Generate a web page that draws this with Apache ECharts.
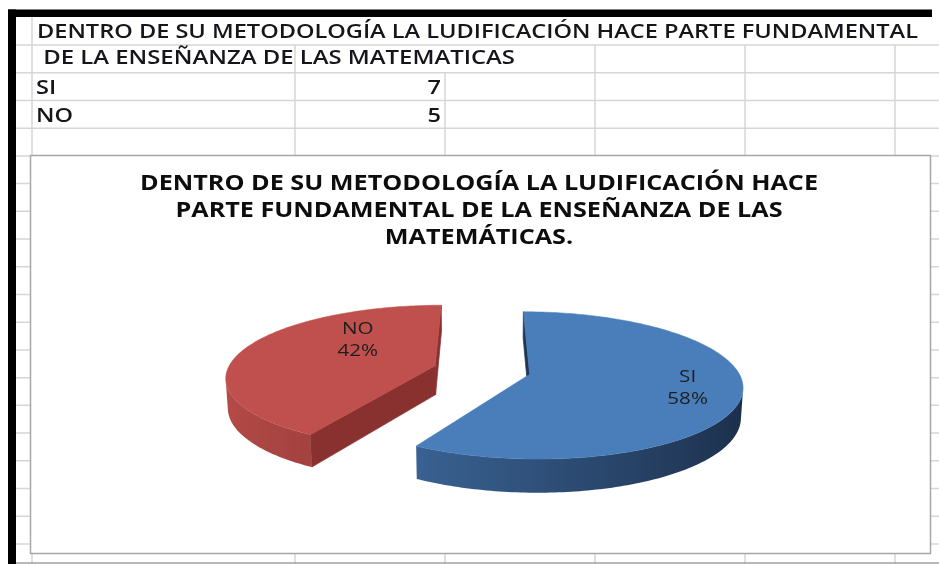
<!DOCTYPE html>
<html><head><meta charset="utf-8">
<script src="https://cdn.jsdelivr.net/npm/echarts@6/dist/echarts.min.js"></script>
<style>html,body{margin:0;padding:0;background:#fff}#c{width:939px;height:564px}</style>
</head><body><div id="c"></div>
<script>
// ---- data ----
const sheetHeader = ['DENTRO DE SU METODOLOGÍA LA LUDIFICACIÓN HACE PARTE FUNDAMENTAL', ' DE LA ENSEÑANZA DE LAS MATEMATICAS'];
const categories = ['SI', 'NO'];
const values = [7, 5];
const titleLines = ['DENTRO DE SU METODOLOGÍA LA LUDIFICACIÓN HACE', 'PARTE FUNDAMENTAL DE LA ENSEÑANZA DE LAS', 'MATEMÁTICAS.'];

// ---- styles ----
const FONT = '"Open Sans", "Noto Sans", sans-serif';
const STYLE = {
  top:   ['#4a7ebb', '#c0504d'],
  cut:   ['#1f3554', '#88312f'],
  dark:  [[27, 45, 73], [110, 38, 36]],
  light: [[67, 115, 170], [181, 75, 72]],
  labelPos: [{dAng: 0, r: 0.75}, {dAng: 28, r: 0.56}]
};
const P = {cx: 482, cy: 370, f: 1312, d: 6.31, sa: 0.34, ca: 0.94, h: 0.15, explode: 0.235};

const mctx = document.createElement('canvas').getContext('2d');
function measure(text, font) { mctx.font = font; return mctx.measureText(text).width; }

const total = values.reduce((a, b) => a + b, 0);
const starts = []; (function(){ let acc = 0; values.forEach(v => { starts.push(acc / total * 360); acc += v; }); })();
const rad = a => a * Math.PI / 180;
function proj(X, Z, H) {
  const yc = Z * P.sa + H * P.ca;
  const zc = P.d + Z * P.ca - H * P.sa;
  return [P.cx + P.f * X / zc, P.cy - P.f * yc / zc];
}
function mix(c0, c1, t) {
  return 'rgb(' + c0.map((c, k) => Math.round(c + (c1[k] - c) * t)).join(',') + ')';
}
function poly(points, fill, sw) {
  return {type: 'polygon', shape: {points: points}, style: {fill: fill, stroke: typeof fill === 'string' ? fill : null, lineWidth: sw == null ? 0.7 : sw}};
}

function renderItem(params, api) {
  const i = params.dataIndex;
  const v = api.value(0);
  const a0 = starts[i], a1 = a0 + v / total * 360, mid = (a0 + a1) / 2;
  const ox = P.explode * Math.sin(rad(mid)), oz = P.explode * Math.cos(rad(mid));
  const rim = (a, H) => proj(ox + Math.sin(rad(a)), oz + Math.cos(rad(a)), H);
  const camDot = (nx, nz, px, pz) => nx * (-px) + nz * (-P.d * P.ca - pz);
  const children = [];
  const radial = (a, nx, nz) => {
    if (camDot(nx, nz, ox, oz) > 0) {
      children.push(poly([proj(ox, oz, 0), rim(a, 0), rim(a, -P.h), proj(ox, oz, -P.h)], STYLE.cut[i]));
    }
  };
  radial(a0, -Math.cos(rad(a0)), Math.sin(rad(a0)));
  radial(a1, Math.cos(rad(a1)), -Math.sin(rad(a1)));
  // outer curved side: visible part as one polygon with a shading gradient
  const N = Math.ceil((a1 - a0) / 1);
  let first = -1, last = -1;
  const samples = [];
  for (let k = 0; k < N; k++) {
    const b0 = a0 + (a1 - a0) * k / N, b1 = a0 + (a1 - a0) * (k + 1) / N, bm = (b0 + b1) / 2;
    const nx = Math.sin(rad(bm)), nz = Math.cos(rad(bm));
    if (camDot(nx, nz, ox + nx, oz + nz) > 0) {
      if (first < 0) first = k;
      last = k;
      samples.push({x: rim(bm, 0)[0], c: mix(STYLE.dark[i], STYLE.light[i], 0.5 * (1 - nx))});
    }
  }
  if (first >= 0) {
    const topPts = [], botPts = [];
    for (let k = first; k <= last + 1; k++) {
      const b = a0 + (a1 - a0) * k / N;
      topPts.push(rim(b, 0)); botPts.push(rim(b, -P.h));
    }
    const all = topPts.concat(botPts.reverse());
    const xs = all.map(p => p[0]);
    const xmin = Math.min.apply(null, xs), xmax = Math.max.apply(null, xs);
    const stops = samples.map(s => ({offset: Math.min(1, Math.max(0, (s.x - xmin) / (xmax - xmin))), color: s.c}))
      .sort((p, q) => p.offset - q.offset);
    children.push({type: 'polygon', shape: {points: all},
      style: {fill: {type: 'linear', x: xmin, y: 0, x2: xmax, y2: 0, global: true, colorStops: stops}}});
  }
  const pts = [proj(ox, oz, 0)];
  for (let k = 0; k <= N; k++) pts.push(rim(a0 + (a1 - a0) * k / N, 0));
  children.push(poly(pts, STYLE.top[i], 0.5));
  const lp = STYLE.labelPos[i];
  const la = mid + lp.dAng;
  const q = proj(ox + lp.r * Math.sin(rad(la)), oz + lp.r * Math.cos(rad(la)), 0);
  const pct = Math.round(v / total * 100) + '%';
  children.push({
    type: 'text', x: q[0], y: q[1], scaleX: 1.33,
    style: {text: categories[i] + '\n' + pct, align: 'center', verticalAlign: 'middle',
            textAlign: 'center', textVerticalAlign: 'middle',
            fontSize: 15.5, fontFamily: FONT, lineHeight: 22, fill: '#1e1e1e'}
  });
  return {type: 'group', children: children};
}

// ---- sheet background ----
const gridColor = '#d6d6d6';
const graphics = [];
const rowStep = 27.72;
for (let k = 0; k <= 18; k++) {
  const y = 45 + rowStep * k;
  graphics.push({type: 'line', shape: {x1: 16, y1: y, x2: 939, y2: y}, style: {stroke: gridColor, lineWidth: 1.5}});
}
[[32, 17], [295, 45], [445, 73], [595, 45], [745, 45], [895, 45]].forEach(c => {
  graphics.push({type: 'line', shape: {x1: c[0], y1: c[1], x2: c[0], y2: 564}, style: {stroke: gridColor, lineWidth: 1.5}});
});
graphics.push({type: 'line', shape: {x1: 16, y1: 563, x2: 939, y2: 563}, style: {stroke: '#a0a0a0', lineWidth: 1.5}});
graphics.push({type: 'rect', shape: {x: 8, y: 9.5, width: 924, height: 7.5}, style: {fill: '#000'}});
graphics.push({type: 'rect', shape: {x: 8, y: 9.5, width: 8, height: 555}, style: {fill: '#000'}});
graphics.push({type: 'rect', shape: {x: 30.5, y: 155.5, width: 900, height: 398}, style: {fill: '#fff', stroke: '#a6a6a6', lineWidth: 1.5}});

const sheetFont = '600 19px ' + FONT;
const sheetSX = 881 / measure(sheetHeader[0], sheetFont);
const sheetSX2 = 478 / measure(sheetHeader[1], sheetFont);
function txt(text, x, y, align, font, sx, fill) {
  return {type: 'text', x: x, y: y, scaleX: sx,
    style: {text: text, font: font, align: align, verticalAlign: 'middle', textAlign: align, textVerticalAlign: 'middle', fill: fill}};
}
const sheetColor = '#15151c';
graphics.push(txt(sheetHeader[0], 37, 33, 'left', sheetFont, sheetSX, sheetColor));
graphics.push(txt(sheetHeader[1], 37, 58.5, 'left', sheetFont, sheetSX2, sheetColor));
categories.forEach((c, i) => {
  const y = 88.5 + 27.7 * i;
  graphics.push(txt(c, 36, y, 'left', sheetFont, sheetSX, sheetColor));
  graphics.push(txt(String(values[i]), 441, y, 'right', sheetFont, sheetSX, sheetColor));
});
const titleFont = 'bold 21px ' + FONT;
const titleSX = 678 / measure(titleLines[0], titleFont);
titleLines.forEach((t, i) => {
  graphics.push(txt(t, 479, 184.5 + 27 * i, 'center', titleFont, titleSX, '#0d0d0d'));
});

const chart = echarts.init(document.getElementById('c'));
chart.setOption({
  animation: false,
  backgroundColor: '#ffffff',
  graphic: {elements: graphics},
  series: [{
    type: 'custom',
    coordinateSystem: 'none',
    renderItem: renderItem,
    silent: true,
    z: 10,
    data: values.map((v, i) => ({value: v, name: categories[i]}))
  }]
});
</script></body></html>
